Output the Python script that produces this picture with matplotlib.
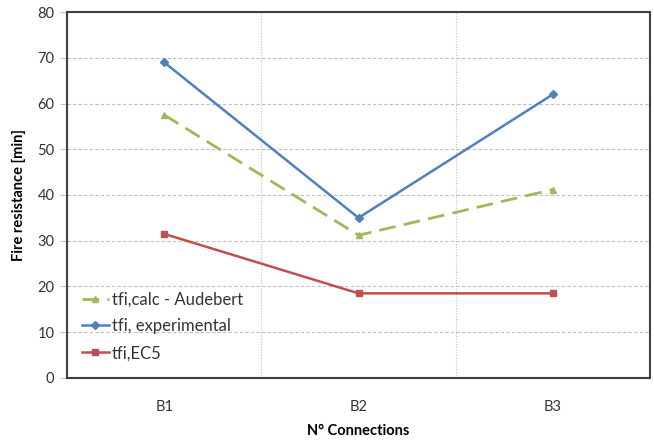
import matplotlib
matplotlib.use("Agg")
from matplotlib import pyplot as plt

categories = ["B1", "B2", "B3"]
calc_audebert = [57.5, 31.2, 41.2]
experimental = [69.0, 35.0, 62.0]
ec5 = [31.5, 18.5, 18.5]

plt.rcParams['font.family'] = ['Lato', 'DejaVu Sans']

fig = plt.figure(figsize=(6.54, 4.45), dpi=100)
ax = fig.add_axes([0.1024, 0.1506, 0.8916, 0.8224])

x = list(range(len(categories)))

ax.plot(x, calc_audebert, color='#9BBB59', linestyle=(0, (6, 3)), linewidth=2,
        marker='^', markersize=5, label='tfi,calc - Audebert')
ax.plot(x, experimental, color='#4F81BD', linewidth=1.8,
        marker='D', markersize=4, label='tfi, experimental')
ax.plot(x, ec5, color='#C0504D', linewidth=1.8,
        marker='s', markersize=5, label='tfi,EC5')

ax.set_xlim(-0.5, 2.5)
ax.set_ylim(0, 80)
ax.set_yticks(range(0, 81, 10))
ax.set_xticks(x)
ax.set_xticklabels(categories)

# grid: dashed horizontals, dotted category separators
for yv in range(10, 80, 10):
    ax.axhline(yv, color='#BFBFBF', linestyle=(0, (3, 2)), linewidth=0.8, zorder=0)
for xv in [0.5, 1.5]:
    ax.axvline(xv, color='#BFBFBF', linestyle=(0, (1, 1.5)), linewidth=0.8, zorder=0)

ax.tick_params(axis='y', length=5, color='#BFBFBF', labelsize=10.5, labelcolor='#333333', pad=4)
ax.tick_params(axis='x', length=0, labelsize=10.5, labelcolor='#333333', pad=16)

for s in ax.spines.values():
    s.set_color('#404040')
    s.set_linewidth(1.5)

ax.set_ylabel('Fire resistance [min]', fontsize=10.5, fontweight='bold', labelpad=8)
ax.set_xlabel('N° Connections', fontsize=10.5, fontweight='bold', labelpad=7)

leg = ax.legend(loc='lower left', bbox_to_anchor=(0.0, 0.005), frameon=False,
                fontsize=12, handlelength=1.6, handletextpad=0.2, labelspacing=0.65)
for t in leg.get_texts():
    t.set_color('#333333')

fig.savefig('out.png', dpi=100)
